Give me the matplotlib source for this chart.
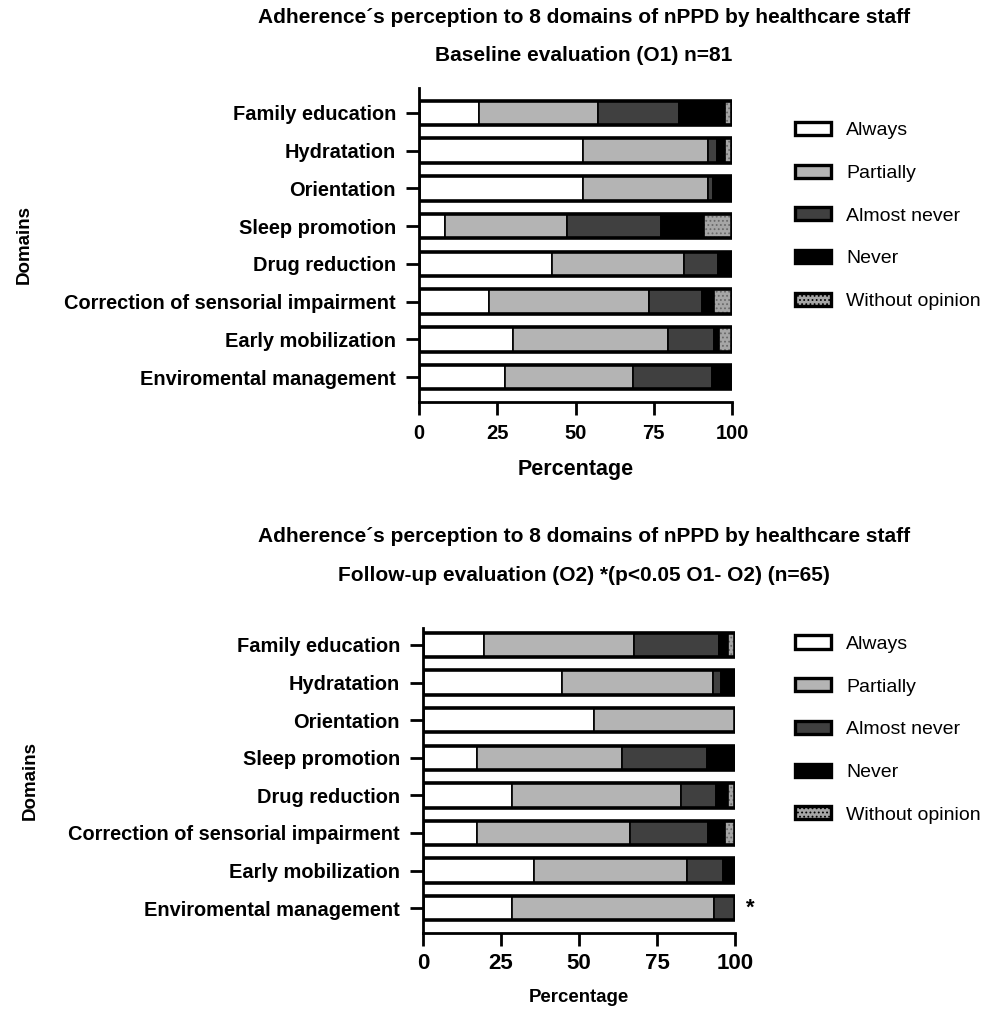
import matplotlib
matplotlib.use('Agg')
import matplotlib.pyplot as plt
from matplotlib.patches import Patch
import numpy as np

plt.rcParams['font.family'] = ['Liberation Sans', 'DejaVu Sans']
plt.rcParams['hatch.linewidth'] = 0.8

# ── data (percent of respondents per answer) ─────────────────
domains = ["Family education", "Hydratation", "Orientation", "Sleep promotion",
           "Drug reduction", "Correction of sensorial impairment",
           "Early mobilization", "Enviromental management"]
answers = ["Always", "Partially", "Almost never", "Never", "Without opinion"]

# baseline O1, n=81
o1_always       = [19.1, 52.3, 52.3,  8.2, 42.4, 22.3, 30.1, 27.4]
o1_partially    = [38.2, 40.0, 40.0, 39.0, 42.1, 51.2, 49.4, 41.0]
o1_almost_never = [25.9,  2.9,  1.6, 30.1, 11.0, 16.9, 14.8, 25.2]
o1_never        = [14.7,  2.7,  6.1, 13.6,  4.5,  3.7,  1.4,  6.4]
o1_no_opinion   = [ 2.1,  2.1,  0.0,  9.1,  0.0,  5.9,  4.3,  0.0]

# follow-up O2, n=65
o2_always       = [19.5, 44.6, 54.8, 17.3, 28.4, 17.3, 35.5, 28.4]
o2_partially    = [48.1, 48.2, 45.2, 46.6, 54.4, 48.9, 49.1, 65.0]
o2_almost_never = [27.3,  2.6,  0.0, 27.1, 11.2, 25.3, 11.6,  6.6]
o2_never        = [ 3.0,  4.6,  0.0,  9.0,  3.8,  5.4,  3.8,  0.0]
o2_no_opinion   = [ 2.1,  0.0,  0.0,  0.0,  2.2,  3.1,  0.0,  0.0]

o1 = [o1_always, o1_partially, o1_almost_never, o1_never, o1_no_opinion]
o2 = [o2_always, o2_partially, o2_almost_never, o2_never, o2_no_opinion]

colors = ["#ffffff", "#b4b4b4", "#404040", "#000000", "#a6a6a6"]
hatches = [None, None, None, None, "...."]

fig = plt.figure(figsize=(9.85, 10.09), dpi=100)
ax1 = fig.add_axes([0.4254, 0.6016, 0.3178, 0.3112])
ax2 = fig.add_axes([0.4294, 0.0753, 0.3168, 0.3023])

def draw(ax, series, ytop, tick_fs, tick_pad, xlab_fs, xlab_pad, ylab_x):
    y = np.arange(len(domains))
    left = np.zeros(len(domains))
    for vals, c, h in zip(series, colors, hatches):
        vals = np.array(vals)
        m = vals > 0
        if h:
            ax.barh(y[m], vals[m], 0.65, left=left[m], color=c, hatch=h,
                    edgecolor="#6a6a6a", linewidth=0)
            ax.barh(y[m], vals[m], 0.65, left=left[m], fill=False,
                    edgecolor="black", linewidth=1.2)
        else:
            ax.barh(y[m], vals[m], 0.65, left=left[m], color=c,
                    edgecolor="black", linewidth=1.2)
        left += vals
    # outline of the whole bar
    ax.barh(y, left, 0.65, fill=False, edgecolor="black", linewidth=2.6)
    ax.set_ylim(7.66, ytop)
    ax.set_xlim(0, 100)
    ax.set_yticks(y)
    ax.set_yticklabels(domains, fontsize=14.4, fontweight="bold")
    ax.set_xticks([0, 25, 50, 75, 100])
    ax.set_xticklabels(["0", "25", "50", "75", "100"], fontsize=tick_fs, fontweight="bold")
    for s in ["top", "right"]:
        ax.spines[s].set_visible(False)
    for s in ["left", "bottom"]:
        ax.spines[s].set_linewidth(2.0)
    ax.tick_params(axis="y", length=9.5, width=2.0, pad=7)
    ax.tick_params(axis="x", length=9.5, width=2.0, pad=tick_pad)
    ax.set_xlabel("Percentage", fontsize=xlab_fs, fontweight="bold", labelpad=xlab_pad)
    ax.set_ylabel("Domains", fontsize=13.5, fontweight="bold")
    ax.yaxis.set_label_coords(ylab_x, 0.5)

draw(ax1, o1, -0.66, 14.5, 6, 15.5, 12, -1.235)
draw(ax2, o2, -0.45, 16, 5, 13.4, 11, -1.23)

handles = [Patch(facecolor=c, edgecolor="black", linewidth=2.4, hatch=h)
           for c, h in zip(colors, hatches)]
for yy in [0.887, 0.378]:
    fig.legend(handles, answers, loc="upper left", bbox_to_anchor=(0.799, yy),
               frameon=False, fontsize=14, handlelength=1.85, handleheight=0.67,
               labelspacing=1.3, handletextpad=0.8, borderaxespad=0)

fig.text(0.593, 0.983, "Adherence\u00b4s perception to 8 domains of nPPD by healthcare staff",
         ha="center", va="center", fontsize=15, fontweight="bold")
fig.text(0.593, 0.945, "Baseline evaluation (O1) n=81",
         ha="center", va="center", fontsize=15, fontweight="bold")
fig.text(0.593, 0.468, "Adherence\u00b4s perception to 8 domains of nPPD by healthcare staff",
         ha="center", va="center", fontsize=15, fontweight="bold")
fig.text(0.593, 0.430, "Follow-up evaluation (O2) *(p<0.05 O1- O2) (n=65)",
         ha="center", va="center", fontsize=15, fontweight="bold")

# significance mark next to the last O2 bar
ax2.text(103.5, 7, "*", fontsize=16, fontweight="bold", ha="left", va="center",
         clip_on=False)

fig.savefig("out.png", dpi=100)
